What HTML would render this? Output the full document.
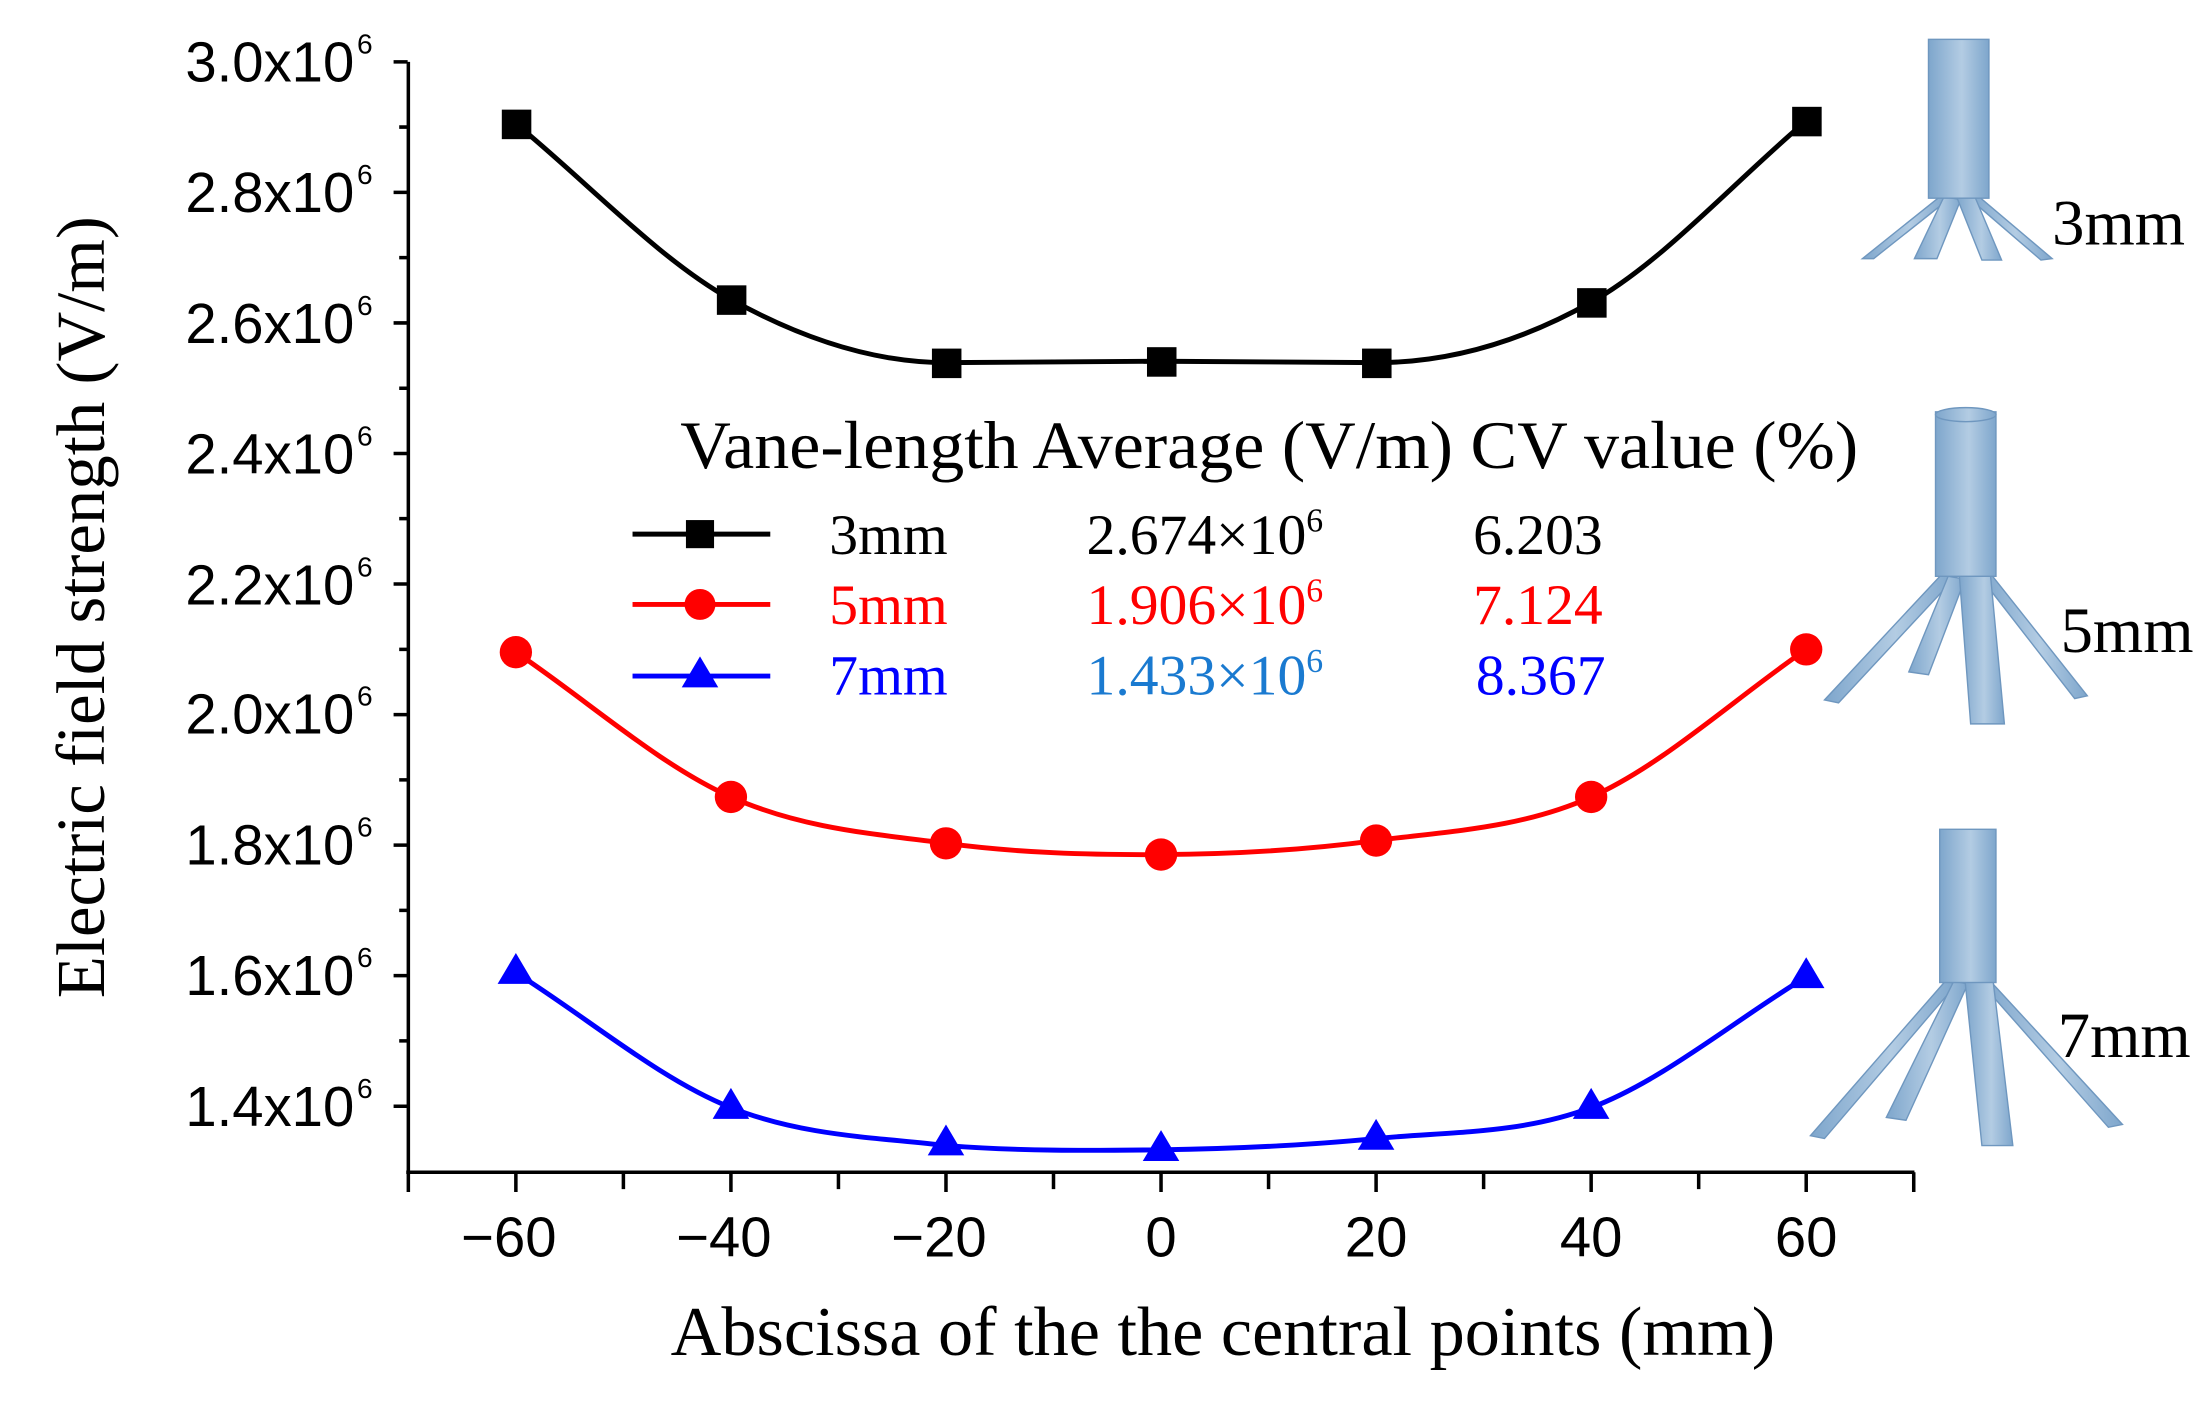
<!DOCTYPE html>
<html><head><meta charset="utf-8"><style>
html,body{margin:0;padding:0;background:#fff;}
svg{display:block;}
.t{font-family:"Liberation Sans",Arial,sans-serif;font-size:40px;fill:#000;}
.s{font-family:"Liberation Serif","Times New Roman",serif;}
</style></head><body>
<svg width="2204" height="1407" viewBox="0 0 1568 1001" xmlns="http://www.w3.org/2000/svg">
<rect width="1568" height="1001" fill="#fff"/>
<g stroke="#000" stroke-width="2.5" fill="none">
<line x1="290.5" y1="44" x2="290.5" y2="835"/>
<line x1="289" y1="834" x2="1362" y2="834"/>
<path d="M280 44H290M280 136.9H290M280 229.75H290M280 322.6H290M280 415.5H290M280 508.4H290M280 601.25H290M280 694.1H290M280 787H290"/>
<path d="M284 90.4H290M284 183.3H290M284 276.2H290M284 369H290M284 462H290M284 554.8H290M284 647.7H290M284 740.5H290"/>
<path d="M290.5 834V848M367 834V848M443.5 834V846M520 834V848M596.5 834V846M673 834V848M749.5 834V846M826 834V848M902.5 834V846M979 834V848M1055.5 834V846M1132 834V848M1208.5 834V846M1285 834V848M1361.5 834V848"/>
</g>
<g class="t" text-anchor="end">
<text x="252" y="58">3.0x10</text><text x="252" y="151">2.8x10</text><text x="252" y="244">2.6x10</text>
<text x="252" y="337">2.4x10</text><text x="252" y="430">2.2x10</text><text x="252" y="522">2.0x10</text>
<text x="252" y="615">1.8x10</text><text x="252" y="708">1.6x10</text><text x="252" y="801">1.4x10</text>
</g>
<g class="t" style="font-size:20px">
<text x="254" y="38">6</text><text x="254" y="131">6</text><text x="254" y="224">6</text>
<text x="254" y="317">6</text><text x="254" y="410">6</text><text x="254" y="502">6</text>
<text x="254" y="595">6</text><text x="254" y="688">6</text><text x="254" y="781">6</text>
</g>
<g class="t" text-anchor="middle">
<text x="362" y="894">−60</text><text x="515" y="894">−40</text><text x="668" y="894">−20</text>
<text x="826" y="894">0</text><text x="979" y="894">20</text><text x="1132" y="894">40</text><text x="1285" y="894">60</text>
</g>
<text class="s" x="870" y="964" font-size="50" text-anchor="middle">Abscissa of the the central points (mm)</text>
<text class="s" transform="translate(74,432) rotate(-90)" font-size="49" text-anchor="middle">Electric field strength (V/m)</text>
<g fill="none" stroke-width="3.5">
<path stroke="#000" d="M367,88 C418,129.7 469,184.7 520,213 C571,241.3 622,258 673,258 C724,258 775,257 826,257 C877,257 928,258 979,258 C1030,258 1081,243.7 1132,215 C1183,186.3 1234,129 1285,86"/>
<path stroke="#f00" d="M367,464 C418,498.3 469,544.3 520,567 C571,589.7 622,593.2 673,600 C724,606.8 775,608.3 826,608 C877,607.7 928,604.8 979,598 C1030,591.2 1081,589.7 1132,567 C1183,544.3 1234,497 1285,462"/>
<path stroke="#00f" d="M367,692 C418,724 469,767.7 520,788 C571,808.3 622,809 673,815 C724,819 775,818.7 826,818 C877,817.3 928,815 979,810 C1030,805 1081,807.2 1132,788 C1183,768.8 1234,726 1285,695"/>
</g>
<g fill="#000">
<rect x="357" y="78" width="21" height="21"/><rect x="510" y="203" width="21" height="21"/><rect x="663" y="248" width="21" height="21"/>
<rect x="816" y="247" width="21" height="21"/><rect x="969" y="248" width="21" height="21"/><rect x="1122" y="205" width="21" height="21"/><rect x="1275" y="76" width="21" height="21"/>
</g>
<g fill="#f00">
<circle cx="367" cy="464" r="11.5"/><circle cx="520" cy="567" r="11.5"/><circle cx="673" cy="600" r="11.5"/><circle cx="826" cy="608" r="11.5"/>
<circle cx="979" cy="598" r="11.5"/><circle cx="1132" cy="567" r="11.5"/><circle cx="1285" cy="462" r="11.5"/>
</g>
<g fill="#00f">
<path d="M367,678 l13,22 h-26z"/><path d="M520,774 l13,22 h-26z"/><path d="M673,800 l13,22 h-26z"/><path d="M826,804 l13,22 h-26z"/>
<path d="M979,796 l13,22 h-26z"/><path d="M1132,774 l13,22 h-26z"/><path d="M1285,681 l13,22 h-26z"/>
</g>
<text class="s" x="484" y="333" font-size="48" textLength="838" lengthAdjust="spacingAndGlyphs">Vane-length Average (V/m) CV value (%)</text>
<g stroke-width="3.5">
<line x1="450" y1="380" x2="548" y2="380" stroke="#000"/><rect x="488" y="370" width="20" height="20" fill="#000"/>
<line x1="450" y1="430" x2="548" y2="430" stroke="#f00"/><circle cx="498" cy="430" r="11" fill="#f00"/>
<line x1="450" y1="481" x2="548" y2="481" stroke="#00f"/><path d="M498,467 l13,22 h-26z" fill="#00f"/>
</g>
<g class="s" font-size="41">
<text x="590" y="394">3mm</text><text x="773" y="394">2.674×10<tspan font-size="24" dy="-16">6</tspan></text><text x="1048" y="394">6.203</text>
<text x="590" y="444" fill="#f00">5mm</text><text x="773" y="444" fill="#f00">1.906×10<tspan font-size="24" dy="-16">6</tspan></text><text x="1048" y="444" fill="#f00">7.124</text>
<text x="590" y="494" fill="#00f">7mm</text><text x="773" y="494" fill="#1a7ad0">1.433×10<tspan font-size="24" dy="-16">6</tspan></text><text x="1050" y="494" fill="#00f">8.367</text>
</g>
<defs><linearGradient id="g" x1="0" x2="1"><stop offset="0" stop-color="#7ea6cc"/><stop offset="0.55" stop-color="#b3cce3"/><stop offset="1" stop-color="#7ea6cc"/></linearGradient></defs>
<g fill="url(#g)" stroke="#6f97bf" stroke-width="1">
<path d="M1380,140 L1325,184 L1333,184 L1386,142Z"/><path d="M1408,140 L1460,184 L1452,185 L1402,142Z"/>
<path d="M1383,140 L1362,184 L1378,184 L1395,142Z"/><path d="M1392,140 L1410,185 L1424,185 L1405,140Z"/>
<rect x="1372" y="28" width="43" height="113"/>
<path d="M1382,408 L1298,498 L1308,500 L1390,412Z"/><path d="M1416,408 L1485,495 L1476,497 L1410,412Z"/>
<path d="M1386,410 L1358,478 L1372,480 L1398,412Z"/><path d="M1394,410 L1402,515 L1426,515 L1416,408Z"/>
<rect x="1377" y="293" width="43" height="117"/><ellipse cx="1398.5" cy="295" rx="21.5" ry="5"/>
<path d="M1384,698 L1288,808 L1298,810 L1392,700Z"/><path d="M1416,698 L1510,800 L1500,802 L1410,700Z"/>
<path d="M1390,698 L1342,795 L1356,797 L1400,700Z"/><path d="M1398,698 L1410,815 L1432,815 L1418,698Z"/>
<rect x="1380" y="590" width="40" height="109"/>
</g>
<g class="s" font-size="46">
<text x="1460" y="174">3mm</text><text x="1466" y="464">5mm</text><text x="1464" y="752">7mm</text>
</g>
</svg>
</body></html>
